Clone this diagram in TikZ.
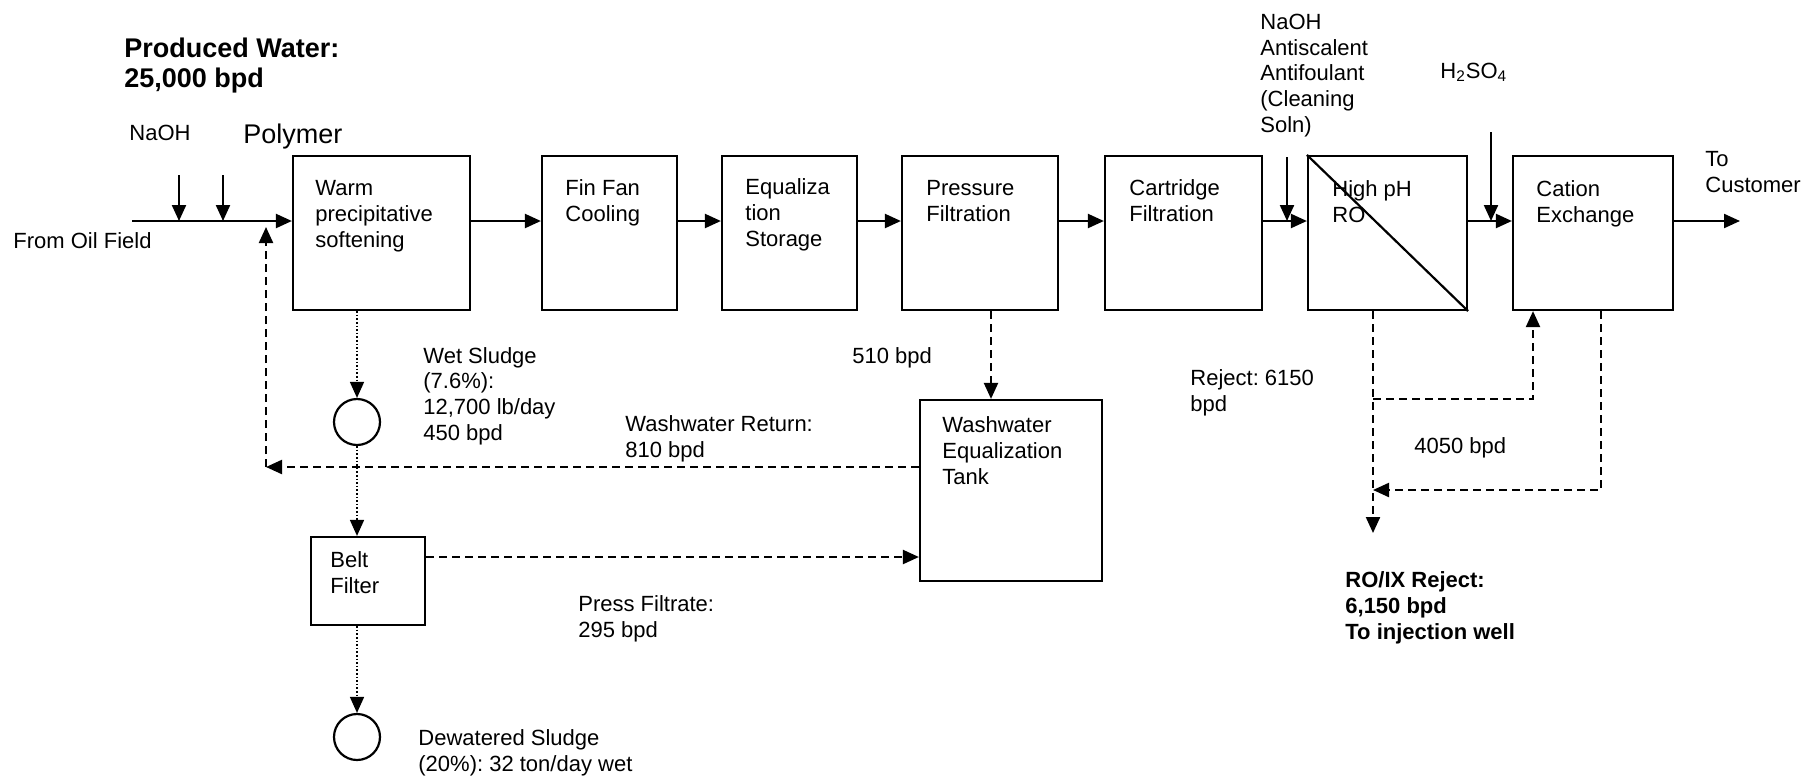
\documentclass[tikz,border=0pt]{standalone}
\usepackage{fontspec}
\setmainfont{Liberation Sans}
\usetikzlibrary{arrows.meta,fit,calc}
\frenchspacing
\begin{document}
\begin{tikzpicture}[x=0.5pt,y=-0.5pt,
  box/.style={draw,line width=1.1pt,inner sep=0pt,rectangle},
  blob/.style={draw,line width=1.1pt,circle,inner sep=0pt,minimum size=23pt},
  flow/.style={line width=1.1pt,-{Triangle[length=8pt,width=7pt]}},
  dflow/.style={flow,dash pattern=on 4pt off 2.5pt},
  sflow/.style={line width=0.8pt,densely dotted,-{Triangle[length=8pt,width=7pt]}},
  lbl/.style={font=\fontsize{11}{12.8}\selectfont,align=left,inner sep=0pt,anchor=base west},
  bigbold/.style={font=\fontsize{13.5}{15}\selectfont\bfseries,align=left,inner sep=0pt,anchor=base west},
  boldlbl/.style={font=\fontsize{11}{12.8}\selectfont\bfseries,align=left,inner sep=0pt,anchor=base west}
]
\useasboundingbox (0,0) rectangle (1815,777);

% main boxes
\node[box,fit={(293,156) (470,310)}] (warm) {};
\node[box,fit={(542,156) (677,310)}] (fin) {};
\node[box,fit={(722,156) (857,310)}] (eq) {};
\node[box,fit={(902,156) (1058,310)}] (press) {};
\node[box,fit={(1105,156) (1262,310)}] (cart) {};
\node[box,fit={(1308,156) (1467,310)}] (ro) {};
\node[box,fit={(1513,156) (1673,310)}] (cat) {};
\node[box,fit={(920,400) (1102,581)}] (wash) {};
\node[box,fit={(311,537) (425,625)}] (belt) {};
\node[blob] (c1) at (357,422) {};
\node[blob] (c2) at (357,737) {};
\draw[line width=1.1pt] (ro.north west) -- (ro.south east);

% box texts (anchor = baseline of last line)
\node[lbl] (warmT) at (315,247) {Warm\\precipitative\\softening};
\node[lbl] (finT) at (565,221) {Fin Fan\\Cooling};
\node[lbl] (eqT) at (745,246) {Equaliza\\tion\\Storage};
\node[lbl] (pressT) at (926,221) {Pressure\\Filtration};
\node[lbl] (cartT) at (1129,221) {Cartridge\\Filtration};
\node[lbl] (roT) at (1332,222) {High pH\\RO};
\node[lbl] (catT) at (1536,222) {Cation\\Exchange};
\node[lbl] (washT) at (942,484) {Washwater\\Equalization\\Tank};
\node[lbl] (beltT) at (330,593) {Belt\\Filter};

% free texts
\node[bigbold] (prodT) at (124,87) {Produced Water:\\25,000 bpd};
\node[lbl] (naohT) at (129,140) {NaOH};
\node[lbl,font=\fontsize{13.5}{15}\selectfont] (polyT) at (243,143) {Polymer};
\node[lbl] (fieldT) at (13,248) {From Oil Field};
\node[lbl] (chemT) at (1260,132) {NaOH\\Antiscalent\\Antifoulant\\(Cleaning\\Soln)};
\node[lbl] (acidT) at (1440,78) {H\textsubscript{2}SO\textsubscript{4}};
\node[lbl] (custT) at (1705,192) {To\\Customer};
\node[lbl] (wetT) at (423,440) {Wet Sludge\\(7.6\%):\\12,700 lb/day\\450 bpd};
\node[lbl] (f510T) at (852,363) {510 bpd};
\node[lbl] (retT) at (625,457) {Washwater Return:\\810 bpd};
\node[lbl] (rejT) at (1190,411) {Reject: 6150\\bpd};
\node[lbl] (f4050T) at (1414,453) {4050 bpd};
\node[boldlbl] (roixT) at (1345,639) {RO/IX Reject:\\6,150 bpd\\To injection well};
\node[lbl] (pfT) at (578,637) {Press Filtrate:\\295 bpd};
\node[lbl] (dewT) at (418,771) {Dewatered Sludge\\(20\%): 32 ton/day wet};

% coordinates
\coordinate (ml) at (0,221);
\coordinate (start) at (132,221);
\coordinate (naohTop) at (179,175);
\coordinate (polyTop) at (223,175);
\coordinate (chemTop) at (1287,157);
\coordinate (acidTop) at (1491,132);
\coordinate (outEnd) at (1740,221);
\coordinate (retCorner) at (266,467);
\coordinate (retEnd) at (266,227);
\coordinate (pf) at (0,557);
\coordinate (px) at (991,0);
\coordinate (rx) at (1373,0);
\coordinate (rEnd) at (1373,533);
\coordinate (br) at (1373,399);
\coordinate (bx) at (1533,0);
\coordinate (cx) at (1601,0);
\coordinate (cj) at (1373,490);

% main flow
\draw[flow] (start) -- (warm.west |- ml);
\draw[flow] (naohTop) -- (naohTop |- ml);
\draw[flow] (polyTop) -- (polyTop |- ml);
\draw[flow] (warm.east |- ml) -- (fin.west |- ml);
\draw[flow] (fin.east |- ml) -- (eq.west |- ml);
\draw[flow] (eq.east |- ml) -- (press.west |- ml);
\draw[flow] (press.east |- ml) -- (cart.west |- ml);
\draw[flow] (cart.east |- ml) -- (ro.west |- ml);
\draw[flow] (chemTop) -- (chemTop |- ml);
\draw[flow] (ro.east |- ml) -- (cat.west |- ml);
\draw[flow] (acidTop) -- (acidTop |- ml);
\draw[flow] (cat.east |- ml) -- (outEnd);

% sludge line
\draw[sflow] (warm.south -| c1) -- (c1.north);
\draw[sflow] (c1.south) -- (belt.north -| c1);
\draw[sflow] (belt.south -| c1) -- (c2.north);

% washwater
\draw[dflow] (press.south -| px) -- (wash.north -| px);
\draw[dflow] (wash.west |- retCorner) -- (retCorner);
\draw[dflow] (retCorner) -- (retEnd);
\draw[dflow] (belt.east |- pf) -- (wash.west |- pf);

% reject
\draw[dflow] (ro.south -| rx) -- (rEnd);
\draw[dflow] (br) -| (cat.south -| bx);
\draw[dflow] (cat.south -| cx) |- (cj);
\end{tikzpicture}
\end{document}
